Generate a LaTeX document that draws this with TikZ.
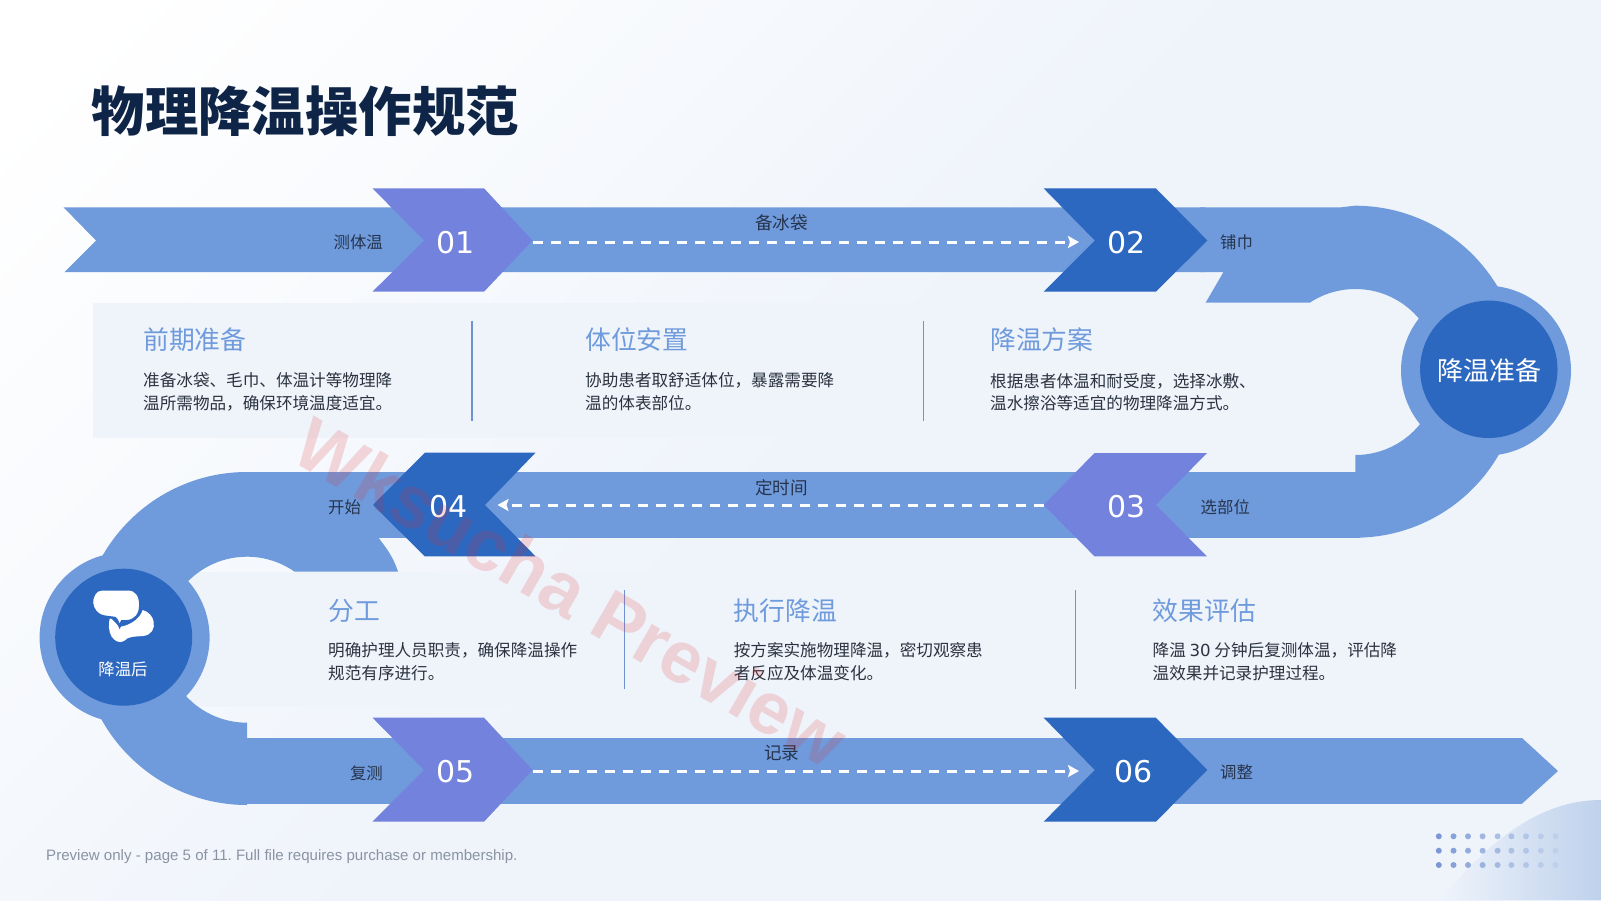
\documentclass[tikz,border=0pt]{standalone}
\usepackage{fontspec}
\setmainfont{Noto Sans CJK SC}
\newfontfamily\digfont{DejaVu Sans}
\newfontfamily\footfont{Liberation Sans}
\usetikzlibrary{arrows.meta}
\definecolor{bandc}{HTML}{6F9BDC}
\definecolor{violetc}{HTML}{7382DC}
\definecolor{deepc}{HTML}{2D68C0}
\definecolor{titlec}{HTML}{0F2547}
\definecolor{bodyc}{HTML}{2B3340}
\definecolor{labelc}{HTML}{26344D}
\definecolor{panelc}{HTML}{EFF4FB}
\definecolor{bgend}{HTML}{EFF4FB}
\definecolor{sepc}{HTML}{6F92D2}
\definecolor{dotc}{HTML}{6F8FD0}
\definecolor{footc}{HTML}{8A93A3}
\definecolor{blobc}{HTML}{BFD1EC}
\definecolor{wmc}{RGB}{225,40,40}
\pgfdeclareverticalshading{bgfade}{100bp}{color(0bp)=(bgend);color(50bp)=(bgend);color(82bp)=(white);color(100bp)=(white)}
\tikzset{
  bandshape/.style={fill=bandc,draw=none},
  chevviolet/.style={fill=violetc,draw=none},
  chevdeep/.style={fill=deepc,draw=none},
  sectitle/.style={anchor=west,inner sep=0pt,text=bandc,font=\fontsize{25.8}{30}\selectfont},
  bodytxt/.style={anchor=north west,inner sep=0pt,align=left,text=bodyc,font=\fontsize{16.6}{22.5}\selectfont},
  steplabel/.style={inner sep=0pt,text=labelc,font=\fontsize{16.4}{20}\selectfont},
  flowlabel/.style={inner sep=0pt,text=labelc,font=\fontsize{17.6}{20}\selectfont},
  numlabel/.style={inner sep=0pt,text=white,font=\digfont\fontsize{30}{34}\selectfont},
  dashflow/.style={draw=white,line width=3pt,dash pattern=on 10pt off 8pt,-{Stealth[length=11pt,width=12pt,inset=2pt]}},
  sepline/.style={draw=sepc},
}
\begin{document}
\begin{tikzpicture}[x=1pt,y=-1pt]
\useasboundingbox (0,0) rectangle (1601,900);
% background
\shade[shading=bgfade,shading angle=45] (0,0) rectangle (1601,900);
% corner decoration
\shade[left color=bgend,right color=blobc] (1601,800) .. controls (1540,800) and (1490,840) .. (1440,900) -- (1601,900) -- cycle;
\foreach \cx [count=\i] in {1438.8,1453.5,1468,1482.6,1497.6,1511.4,1526,1540.8,1555.5}{
  \foreach \cy in {836.3,850.7,865}{
    \pgfmathsetmacro{\op}{0.9-0.095*(\i-1)}
    \fill[dotc,opacity=\op] (\cx,\cy) circle[radius=3pt];
  }
}
% panels
\fill[panelc] (93,302.5) rectangle (1400,438);
\fill[panelc] (190,571.7) rectangle (1400,706.5);
% bands
\fill[bandshape] (63.6,207.4) -- (1205,207.4) -- (1205,272) -- (64.6,272) -- (96,240.5) -- cycle;
\fill[bandshape] (247,472.3) rectangle (1360,537.7);
\fill[bandshape] (246.5,737.7) rectangle (1522,803.5);
\fill[bandshape] (1522,738) -- (1558,771) -- (1522,803.7) -- cycle;
% right bend
\fill[bandshape] (1200,207.4) -- (1340,207.4) -- (1355,205.7) arc[start angle=90,end angle=-90,radius=166pt]
  -- (1200,537.7) -- (1200,472.3) -- (1355.4,472.3) -- (1355.4,455)
  arc[start angle=-90,end angle=123.2,radius=83pt]
  -- (1205.6,302.7) -- (1223.5,272) -- (1200,272) -- cycle;
% left bend
\fill[bandshape] (247,472) arc[start angle=90,end angle=270,radius=166.5pt]
  -- (247,722.7)
  arc[start angle=270,end angle=55,radius=83pt]
  -- (398,571.7) .. controls (393,556) and (386,548) .. (378.6,537.7) -- (420,537.7) -- (420,472) -- cycle;
% rings
\fill[bandc] (1486,370.6) circle[radius=85pt];
\fill[deepc] (1488.8,369.3) circle[radius=68.7pt];
\fill[bandc] (124.6,637.5) circle[radius=85pt];
\fill[deepc] (123.7,637.2) circle[radius=68.5pt];
% chevrons
\fill[chevviolet] (372.5,188.3) -- (484,188.3) -- (532.5,240.5) -- (484,291.7) -- (372.5,291.7) -- (424,240.5) -- cycle;
\fill[chevdeep] (1043.6,188.3) -- (1155.8,188.3) -- (1207.4,240.5) -- (1155.8,291.7) -- (1043.6,291.7) -- (1094.8,240.5) -- cycle;
\fill[chevviolet] (1207,453) -- (1094.5,453) -- (1043.6,505) -- (1094.5,556.3) -- (1207,556.3) -- (1155.8,505) -- cycle;
\fill[chevdeep] (535.5,452.7) -- (424.8,452.7) -- (373,505) -- (424.8,556.3) -- (535.5,556.3) -- (485,505) -- cycle;
\fill[chevviolet] (372.5,717.7) -- (484,717.7) -- (532.5,770) -- (484,821.7) -- (372.5,821.7) -- (424,770) -- cycle;
\fill[chevdeep] (1043.6,717.7) -- (1155.8,717.7) -- (1207.4,770) -- (1155.8,821.7) -- (1043.6,821.7) -- (1094.8,770) -- cycle;
% dashed connectors
\coordinate (d1s) at (533,242);
\coordinate (d1e) at (1079,242);
\coordinate (d2s) at (1044,505);
\coordinate (d2e) at (497.5,505);
\coordinate (d3s) at (533,771);
\coordinate (d3e) at (1079,771);
\draw[dashflow] (d1s) -- (d1e);
\draw[dashflow] (d2s) -- (d2e);
\draw[dashflow] (d3s) -- (d3e);
% separators
\draw[sepline,line width=1.6pt] (472,320.7) -- (472,420.7);
\draw[sepline,line width=1pt] (923.5,320.7) -- (923.5,420.7);
\draw[sepline,line width=1.6pt] (624.4,590) -- (624.4,689.3);
\draw[sepline,line width=1pt] (1075.5,590) -- (1075.5,689.3);
% title
\node[anchor=west,inner sep=0pt,text=titlec,font=\fontsize{53.4}{60}\selectfont\bfseries] (title) at (91.5,111) {物理降温操作规范};
% numbers
\node[numlabel] (n1) at (456,242.6) {01};
\node[numlabel] (n2) at (1126.3,242.6) {02};
\node[numlabel] (n3) at (1126.3,506.4) {03};
\node[numlabel] (n4) at (448.3,506.4) {04};
\node[numlabel] (n5) at (456,771.8) {05};
\node[numlabel] (n6) at (1133.3,771.8) {06};
% step labels
\node[steplabel,anchor=east] (l1) at (383,242) {测体温};
\node[steplabel,anchor=west] (l2) at (1220,242) {铺巾};
\node[flowlabel] (l3) at (781.6,222.5) {备冰袋};
\node[flowlabel] (l4) at (781.6,487.8) {定时间};
\node[flowlabel] (l5) at (781.6,753.5) {记录};
\node[steplabel,anchor=west] (l6) at (1200.5,506.8) {选部位};
\node[steplabel,anchor=west] (l7) at (328,506.8) {开始};
\node[steplabel,anchor=east] (l8) at (383,773.4) {复测};
\node[steplabel,anchor=west] (l9) at (1220,772.4) {调整};
% sections
\node[sectitle] (s1) at (143,339.2) {前期准备};
\node[bodytxt] (b1) at (143,372.5) {准备冰袋、毛巾、体温计等物理降\\温所需物品，确保环境温度适宜。};
\node[sectitle] (s2) at (585,339.2) {体位安置};
\node[bodytxt] (b2) at (585,372.5) {协助患者取舒适体位，暴露需要降\\温的体表部位。};
\node[sectitle] (s3) at (990,339.2) {降温方案};
\node[bodytxt] (b3) at (990,372.8) {根据患者体温和耐受度，选择冰敷、\\温水擦浴等适宜的物理降温方式。};
\node[sectitle] (s4) at (328,611) {分工};
\node[bodytxt] (b4) at (328,642.5) {明确护理人员职责，确保降温操作\\规范有序进行。};
\node[sectitle] (s5) at (733.6,611) {执行降温};
\node[bodytxt] (b5) at (733.6,642.5) {按方案实施物理降温，密切观察患\\者反应及体温变化。};
\node[sectitle] (s6) at (1152.5,611) {效果评估};
\node[bodytxt] (b6) at (1152.5,642.5) {降温 {\digfont 30} 分钟后复测体温，评估降\\温效果并记录护理过程。};
% circle texts
\node[inner sep=0pt,text=white,font=\fontsize{26}{30}\selectfont] (c1) at (1489,371) {降温准备};
\node[inner sep=0pt,text=white,font=\fontsize{16.4}{20}\selectfont] (c2) at (123,669) {降温后};
% icon
\begin{scope}[shift={(80,580)},x=0.3333pt,y=-0.3333pt]
\fill[white] (90,112) .. controls (85,130) and (85,155) .. (95,170) .. controls (105,185) and (120,190) .. (132,183) .. controls (145,168) and (165,170) .. (190,168) .. controls (215,165) and (225,145) .. (221,125) .. controls (218,108) and (205,95) .. (188,90) .. controls (180,120) and (140,140) .. (118,140) -- cycle;
\fill[white,draw=deepc,line width=2.4pt] (65,28) -- (145,28) .. controls (170,28) and (181,48) .. (181,75) .. controls (181,105) and (165,122) .. (140,124) -- (126,124) -- (119,139) .. controls (113,127) and (110,117) .. (105,114) -- (75,110) .. controls (50,107) and (36,85) .. (36,68) .. controls (36,45) and (48,28) .. (65,28) -- cycle;
\end{scope}
% watermark
\node[inner sep=0pt,rotate=-30,text=wmc,opacity=0.17,font=\footfont\bfseries\fontsize{73.5}{78}\selectfont] (wm) at (571,592) {Wksucha Preview};
% footer
\node[anchor=west,inner sep=0pt,text=footc,font=\footfont\fontsize{15.07}{20}\selectfont\frenchspacing] (foot) at (46,856.3) {Preview only - page 5 of 11. Full file requires purchase or membership.};
\end{tikzpicture}
\end{document}
